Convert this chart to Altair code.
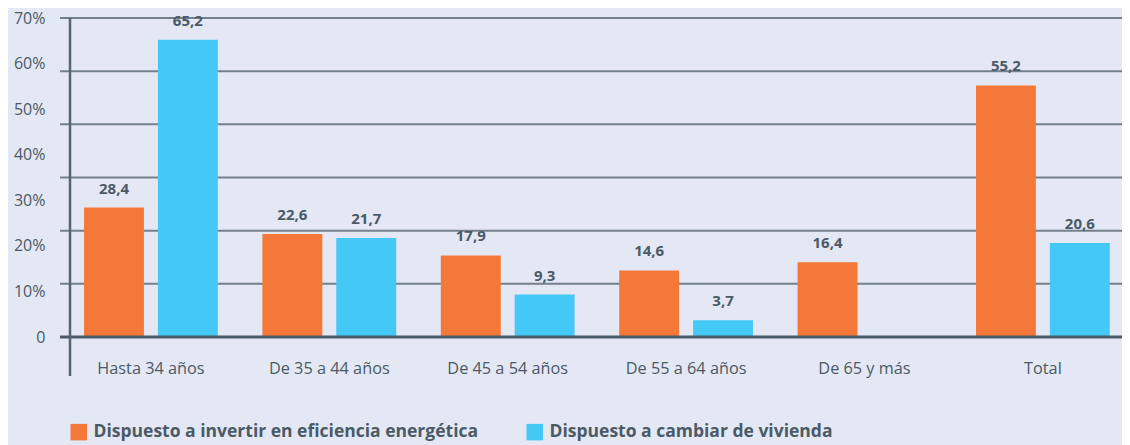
import altair as alt
import pandas as pd

categories = ["Hasta 34 años", "De 35 a 44 años", "De 45 a 54 años",
              "De 55 a 64 años", "De 65 y más", "Total"]
series = ["Dispuesto a invertir en eficiencia energética", "Dispuesto a cambiar de vivienda"]
invertir = [28.4, 22.6, 17.9, 14.6, 16.4, 55.2]
cambiar = [65.2, 21.7, 9.3, 3.7, None, 20.6]
colors = ["#F47938", "#44C8F5"]
y_ticks = [0, 10, 20, 30, 40, 50, 60, 70]
grid_values = [11.667, 23.333, 35.0, 46.667, 58.333, 70.0]

rows = []
for c, a, b in zip(categories, invertir, cambiar):
    for s, v in zip(series, [a, b]):
        if v is not None:
            rows.append({"grupo": c, "serie": s, "valor": v,
                         "etiqueta": f"{v:.1f}".replace(".", ",")})
df = pd.DataFrame(rows)
grid_df = pd.DataFrame({"v": grid_values})
zero_df = pd.DataFrame({"v": [0]})

FONT = "Open Sans"
TXT = "#4b5a66"
W, H = 1060, 319

yscale = alt.Scale(domain=[0, 70], nice=False, zero=True)
yaxis = alt.Axis(title=None, values=y_ticks, grid=False, ticks=False, domain=False,
                 labelFont=FONT, labelFontSize=16, labelColor=TXT, labelPadding=17,
                 labelExpr="datum.value == 0 ? '0' : datum.value + '%'")
xenc = alt.X("grupo:N", sort=categories,
             scale=alt.Scale(paddingInner=0.25, paddingOuter=0.096, align=0.643),
             axis=alt.Axis(title=None, ticks=False, domain=False, labelAngle=0,
                           labelFont=FONT, labelFontSize=16.3, labelColor=TXT,
                           labelPadding=23, labelLimit=0))
xoff = alt.XOffset("serie:N", sort=series,
                   scale=alt.Scale(paddingInner=0.189, paddingOuter=0))

grid = alt.Chart(grid_df).mark_rule(color="#74818c", strokeWidth=2).encode(
    y=alt.Y("v:Q", scale=yscale, axis=yaxis),
    x=alt.value(-2), x2=alt.value(W))

bars = alt.Chart(df).mark_bar().encode(
    x=xenc, xOffset=xoff,
    y=alt.Y("valor:Q", scale=yscale, axis=yaxis),
    color=alt.Color("serie:N", sort=series,
                    scale=alt.Scale(domain=series, range=colors),
                    legend=alt.Legend(title=None, orient="none", legendX=8, legendY=405,
                                      direction="horizontal", symbolType="square",
                                      symbolSize=272, symbolStrokeWidth=0,
                                      labelFont=FONT, labelFontSize=17.5, labelFontWeight="bold",
                                      labelColor=TXT, columnPadding=47, labelOffset=6,
                                      labelLimit=0)))

labels = alt.Chart(df).mark_text(font=FONT, fontSize=15, fontWeight="bold", color=TXT,
                                 baseline="bottom", dy=-11).encode(
    x=alt.X("grupo:N", sort=categories), xOffset=alt.XOffset("serie:N", sort=series),
    y=alt.Y("valor:Q", scale=yscale), text="etiqueta:N")

zero = alt.Chart(zero_df).mark_rule(color="#4b5a66", strokeWidth=3).encode(
    y=alt.Y("v:Q", scale=yscale), x=alt.value(-2), x2=alt.value(W))

vaxis = alt.Chart(zero_df).mark_rule(color="#56646f", strokeWidth=2.5).encode(
    x=alt.value(8), y=alt.value(0), y2=alt.value(358))

chart = alt.layer(grid, bars, zero, vaxis, labels).properties(
    width=W, height=H,
    autosize=alt.AutoSizeParams(type="none"),
    padding={"left": 54, "top": 10, "right": 0, "bottom": 108},
    background="#E3E8F4",
).configure_view(stroke=None)

chart.save("out.html", embed_options={"renderer": "svg", "actions": False})
